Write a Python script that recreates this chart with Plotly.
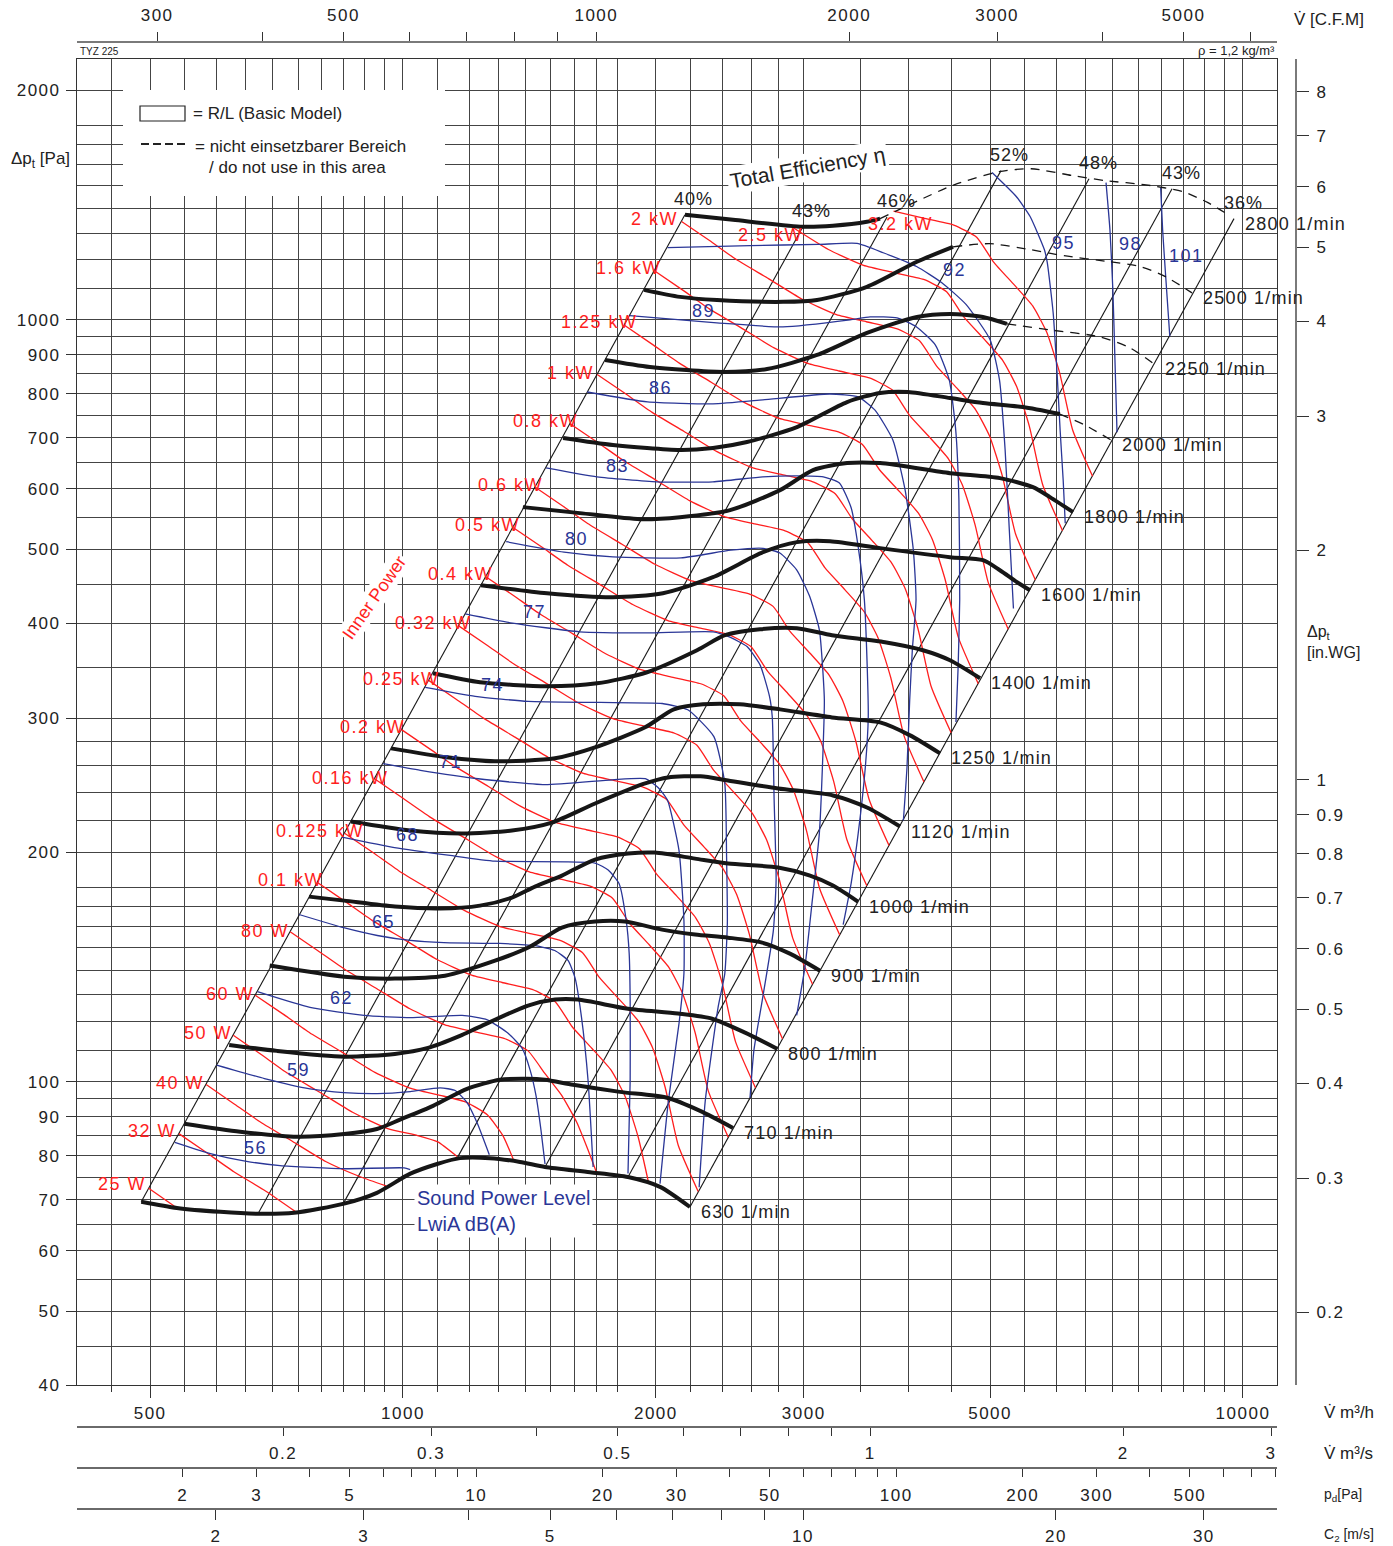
import numpy as np
import plotly.graph_objects as go

# ---------------- data (V in m3/h, pressure in Pa) ----------------
# fan speed curves
n630_V = [488, 538, 606, 674, 742, 851, 931, 1019, 1098, 1169, 1269, 1378, 1476, 1670, 1853, 2023, 2196]
n630_p = [69.6, 68.3, 67.5, 67.1, 67.3, 69.2, 71.5, 75.7, 78.0, 79.4, 79.4, 78.5, 77.3, 76.1, 75.0, 72.8, 68.5]
n710_V = [549, 640, 748, 851, 931, 992, 1086, 1192, 1304, 1405, 1476, 1594, 1812, 2062, 2258, 2471]
n710_p = [88.1, 86.0, 84.7, 85.4, 86.7, 89.2, 93.0, 97.9, 100.6, 100.9, 100.6, 99.1, 97.0, 95.3, 91.6, 87.0]
n800_V = [621, 708, 851, 978, 1071, 1169, 1228, 1409, 1517, 1615, 1853, 2125, 2333, 2554, 2788]
n800_p = [111.8, 109.8, 107.9, 108.8, 110.8, 114.9, 117.8, 125.9, 128.2, 128.2, 124.7, 122.9, 121.0, 116.0, 110.5]
n900_V = [694, 851, 978, 1122, 1287, 1416, 1546, 1693, 1838, 2034, 2227, 2437, 2676, 2888, 3136]
n900_p = [142.1, 137.4, 136.6, 137.8, 144.2, 150.4, 159.4, 162.3, 162.3, 158.4, 156.1, 154.6, 152.3, 147.3, 139.9]
n1000_V = [773, 851, 978, 1107, 1235, 1348, 1436, 1546, 1693, 1853, 1995, 2227, 2437, 2796, 3052, 3250, 3480]
n1000_p = [175.0, 172.9, 169.8, 168.8, 170.3, 174.5, 180.4, 186.5, 195.7, 199.3, 199.9, 196.3, 193.4, 191.1, 186.5, 181.0, 172.4]
n1120_V = [867, 1019, 1176, 1348, 1504, 1693, 1942, 2068, 2261, 2437, 2796, 3250, 3567, 3906]
n1120_p = [219.6, 213.7, 211.8, 213.7, 218.9, 231.9, 246.4, 250.9, 251.7, 248.6, 242.7, 237.6, 229.1, 216.3]
n1250_V = [968, 1128, 1287, 1517, 1693, 1942, 2101, 2276, 2518, 2811, 3241, 3698, 4015, 4359]
n1250_p = [273.9, 266.6, 263.4, 265.8, 274.7, 291.9, 308.2, 312.9, 312.9, 308.2, 300.8, 296.3, 284.9, 269.8]
n1400_V = [1086, 1235, 1484, 1702, 1952, 2239, 2417, 2661, 2944, 3241, 3748, 4159, 4479, 4864]
n1400_p = [343.7, 334.5, 330.5, 333.4, 344.8, 368.5, 385.6, 392.6, 393.8, 385.6, 377.5, 368.5, 357.5, 338.6]
n1600_V = [1238, 1484, 1778, 2039, 2339, 2683, 2944, 3224, 3698, 4479, 4903, 5136, 5383, 5578]
n1600_p = [448.6, 437.8, 432.5, 437.8, 459.5, 495.6, 510.9, 512.4, 501.7, 488.2, 483.7, 469.3, 452.6, 441.7]
n1800_V = [1389, 1624, 1915, 2137, 2451, 2811, 3077, 3378, 3698, 4479, 5136, 5623, 5891, 6277]
n1800_p = [567.9, 557.7, 547.6, 550.9, 562.7, 597.8, 635.1, 648.7, 648.7, 629.3, 619.9, 603.3, 585.3, 559.4]
n2000_V = [1551, 1778, 2137, 2339, 2568, 2944, 3378, 3698, 3993, 4479, 4903, 5472, 6053]
n2000_p = [699.7, 685.0, 674.8, 678.9, 691.3, 723.4, 780.2, 802.0, 804.4, 789.7, 777.9, 768.5, 752.4]
n2000d_V = [6053, 6483, 6964]
n2000d_p = [752.4, 727.8, 695.5]
n2250_V = [1740, 1968, 2404, 2713, 3111, 3567, 4091, 4479, 4903, 5236]
n2250_p = [886.0, 867.4, 854.4, 862.1, 899.4, 961.4, 1009, 1018, 1009, 987.9]
n2250d_V = [5236, 5891, 6757, 7337, 7834]
n2250d_p = [987.9, 970.2, 950.0, 919.0, 875.4]
n2500_V = [1936, 2137, 2365, 2835, 3111, 3567, 4091, 4516]
n2500_p = [1095, 1072, 1062, 1056, 1062, 1105, 1192, 1247]
n2500d_V = [4516, 4997, 5594, 6121, 6945, 7562, 8095, 8696]
n2500d_p = [1247, 1259, 1236, 1214, 1192, 1174, 1139, 1085]
n2800_V = [2166, 2471, 2993, 3250, 3567, 3698]
n2800_p = [1374, 1353, 1325, 1329, 1345, 1358]
n2800d_V = [3698, 4057, 4529, 5123, 5593, 6277, 6869, 7665, 8484, 9085, 9650]
n2800d_p = [1358, 1425, 1504, 1565, 1579, 1546, 1523, 1504, 1473, 1425, 1370]

speed_labels = ["630 1/min", "710 1/min", "800 1/min", "900 1/min", "1000 1/min", "1120 1/min",
                "1250 1/min", "1400 1/min", "1600 1/min", "1800 1/min", "2000 1/min", "2250 1/min",
                "2500 1/min", "2800 1/min"]

# total efficiency lines (from 630 1/min curve up to 2800 1/min curve)
eff_labels = ["40%", "43%", "46%", "52%", "48%", "43%", "36%"]
eff_V_low = [488, 672, 849, 1160, 1476, 1853, 2196]
eff_p_low = [69.6, 67.1, 69.2, 79.4, 77.3, 75.0, 68.5]
eff_V_high = [2166, 2993, 3769, 5151, 6557, 8233, 9757]
eff_p_high = [1374, 1325, 1365, 1570, 1532, 1486, 1358]

# inner power lines
r25_V = [498, 534]
r25_p = [72.5, 68.7]
r32_V = [541, 584, 629, 686, 747]
r32_p = [85.5, 80.7, 76.2, 71.9, 67.4]
r40_V = [583, 629, 677, 739, 809, 891, 955]
r40_p = [99.2, 93.6, 88.5, 83.5, 78.6, 75.0, 73.0]
r50_V = [628, 678, 729, 796, 871, 959, 1041, 1100, 1160]
r50_p = [115.1, 108.6, 102.6, 96.9, 91.2, 86.8, 85.0, 83.4, 79.8]
r60_V = [667, 720, 775, 846, 926, 1019, 1107, 1190, 1260, 1315, 1355]
r60_p = [129.9, 122.7, 115.9, 109.4, 102.9, 98.1, 96.0, 94.0, 90.5, 85.0, 78.8]
r80_V = [734, 792, 853, 931, 1019, 1122, 1218, 1323, 1409, 1476, 1545, 1610, 1660, 1700]
r80_p = [157.4, 148.6, 140.4, 132.5, 124.7, 118.8, 116.3, 113.9, 109.8, 102.5, 96.0, 88.5, 81.5, 76.0]
r100_V = [791, 854, 919, 1003, 1098, 1209, 1312, 1425, 1518, 1590, 1679, 1770, 1839, 1905, 1959]
r100_p = [182.6, 172.4, 162.9, 153.8, 144.7, 137.9, 135.0, 132.2, 127.4, 118.1, 110.6, 103.5, 95.6, 84.7, 74.0]
r125_V = [852, 920, 990, 1080, 1183, 1302, 1413, 1535, 1635, 1713, 1809, 1907, 1981, 2052, 2127, 2246]
r125_p = [211.9, 200.1, 189.0, 178.4, 167.9, 160.0, 156.6, 153.4, 147.8, 137.1, 128.3, 120.1, 111.0, 98.3, 82.5, 71.8]
r160_V = [925, 998, 1075, 1173, 1284, 1414, 1535, 1667, 1775, 1860, 1964, 2070, 2151, 2228, 2309, 2439]
r160_p = [249.9, 235.9, 222.9, 210.3, 198.0, 188.6, 184.6, 180.8, 174.3, 161.6, 151.3, 141.6, 130.8, 115.9, 97.3, 84.6]
r200_V = [996, 1075, 1158, 1264, 1383, 1523, 1653, 1796, 1912, 2003, 2116, 2230, 2317, 2400, 2488, 2628]
r200_p = [289.9, 273.7, 258.6, 244.1, 229.7, 218.8, 214.2, 209.8, 202.3, 187.5, 175.5, 164.3, 151.8, 134.5, 112.9, 98.2]
r250_V = [1073, 1158, 1247, 1361, 1490, 1640, 1781, 1934, 2060, 2158, 2279, 2402, 2496, 2585, 2680, 2830]
r250_p = [336.4, 317.6, 300.1, 283.2, 266.5, 253.9, 248.6, 243.5, 234.7, 217.6, 203.7, 190.7, 176.1, 156.0, 131.0, 113.9]
r320_V = [1165, 1258, 1354, 1478, 1618, 1781, 1933, 2100, 2237, 2343, 2475, 2608, 2710, 2807, 2910, 3073]
r320_p = [396.6, 374.4, 353.8, 333.9, 314.2, 299.4, 293.1, 287.0, 276.7, 256.5, 240.1, 224.8, 207.6, 183.9, 154.5, 134.3]
r400_V = [1255, 1355, 1459, 1592, 1743, 1919, 2083, 2262, 2409, 2524, 2666, 2810, 2919, 3023, 3134, 3311]
r400_p = [460.2, 434.5, 410.5, 387.4, 364.6, 347.4, 340.1, 333.0, 321.1, 297.7, 278.7, 260.8, 240.9, 213.5, 179.2, 155.8]
r500_V = [1352, 1460, 1571, 1715, 1877, 2067, 2244, 2437, 2595, 2719, 2872, 3026, 3144, 3257, 3376, 3566]
r500_p = [534.1, 504.2, 476.4, 449.6, 423.1, 403.1, 394.6, 386.5, 372.6, 345.4, 323.3, 302.7, 279.6, 247.7, 208.0, 180.8]
r600_V = [1437, 1551, 1670, 1823, 1995, 2196, 2384, 2590, 2758, 2889, 3052, 3216, 3341, 3461, 3588, 3790]
r600_p = [603.1, 569.4, 538.0, 507.7, 477.8, 455.2, 445.6, 436.4, 420.7, 390.0, 365.1, 341.8, 315.7, 279.7, 234.9, 204.2]
r800_V = [1581, 1707, 1838, 2006, 2196, 2417, 2624, 2850, 3036, 3180, 3359, 3540, 3678, 3809, 3949, 4171]
r800_p = [730.6, 689.8, 651.7, 615.0, 578.8, 551.4, 539.8, 528.7, 509.6, 472.5, 442.3, 414.0, 382.5, 338.8, 284.5, 247.4]
r1000_V = [1703, 1839, 1980, 2161, 2365, 2604, 2827, 3070, 3270, 3426, 3618, 3813, 3962, 4103, 4254, 4493]
r1000_p = [847.8, 800.4, 756.2, 713.7, 671.6, 639.9, 626.4, 613.5, 591.4, 548.3, 513.3, 480.4, 443.8, 393.2, 330.2, 287.1]
r1250_V = [1835, 1981, 2133, 2328, 2548, 2805, 3045, 3308, 3523, 3690, 3898, 4108, 4268, 4420, 4583, 4840]
r1250_p = [983.8, 928.8, 877.5, 828.1, 779.4, 742.5, 726.9, 711.9, 686.3, 636.3, 595.6, 557.5, 515.0, 456.3, 383.1, 333.1]
r1600_V = [1992, 2151, 2316, 2527, 2766, 3046, 3306, 3591, 3825, 4007, 4232, 4460, 4634, 4799, 4976, 5255]
r1600_p = [1160, 1095, 1034, 976.3, 918.8, 875.3, 856.9, 839.2, 809.0, 750.1, 702.2, 657.2, 607.1, 537.9, 451.7, 392.7]
r2000_V = [2146, 2317, 2494, 2723, 2980, 3281, 3561, 3868, 4120, 4316, 4559, 4804, 4991, 5170, 5360, 5661]
r2000_p = [1346, 1271, 1200, 1133, 1066, 1016, 994.4, 973.8, 938.8, 870.4, 814.8, 762.7, 704.5, 624.1, 524.1, 455.7]
r2500_V = [2884, 3210, 3534, 3836, 4167, 4438, 4649, 4910, 5175, 5377, 5569, 5774, 6098]
r2500_p = [1331, 1237, 1179, 1154, 1130, 1089, 1010, 945.5, 885.1, 817.5, 724.3, 608.2, 528.8]
r3200_V = [3837, 4165, 4525, 4819, 5048, 5332, 5619, 5838, 6047, 6269, 6621]
r3200_p = [1389, 1360, 1332, 1284, 1191, 1114, 1043, 963.8, 853.8, 717.0, 623.4]

power_labels = ["25 W", "32 W", "40 W", "50 W", "60 W", "80 W", "0.1 kW", "0.125 kW", "0.16 kW",
                "0.2 kW", "0.25 kW", "0.32 kW", "0.4 kW", "0.5 kW", "0.6 kW", "0.8 kW", "1 kW",
                "1.25 kW", "1.6 kW", "2 kW", "2.5 kW", "3.2 kW"]
power_label_V = [463.5, 503, 543.4, 585.3, 621.7, 685.6, 734, 796.6, 865, 918.8, 997, 1086, 1170,
                 1260, 1342, 1476, 1581, 1716, 1853, 1995, 2736, 3906]
power_label_p = [73.5, 86.1, 99.7, 115.8, 130.5, 157.9, 183.9, 213.3, 250.6, 292.3, 338.2, 400, 464.2,
                 538.2, 607.2, 736.9, 851.8, 994, 1171, 1358, 1293.6, 1338]

# sound power level lines, LwiA dB(A)
b56_V = [535, 590, 649, 714, 850, 1003, 1020]
b56_p = [83.3, 80.5, 78.7, 77.6, 76.9, 77.1, 76.7]
b59_V = [600, 684, 775, 850, 932, 1020, 1107, 1154, 1192, 1226, 1267]
b59_p = [105.2, 101.0, 97.9, 96.8, 96.5, 97.1, 98.2, 97.4, 93.9, 88.2, 80.2]
b62_V = [671, 775, 899, 1020, 1176, 1260, 1334, 1386, 1417, 1440, 1460, 1476]
b62_p = [131.3, 125.2, 122.2, 121.4, 122.2, 120.6, 115.8, 110.7, 103.6, 95.9, 86.3, 78.0]
b65_V = [752, 850, 932, 1020, 1119, 1305, 1436, 1516, 1572, 1602, 1629, 1661, 1684]
b65_p = [165.8, 159.3, 155.6, 153.3, 152.3, 151.9, 150.9, 148.7, 144.3, 137.1, 122.9, 100.3, 77.3]
b68_V = [846, 977, 1138, 1287, 1693, 1755, 1808, 1844, 1859, 1864, 1864, 1853]
b68_p = [209.5, 203.0, 198.2, 194.8, 193.7, 189.6, 182.1, 162.8, 147.4, 127.8, 100.3, 75.8]
b71_V = [947, 1049, 1229, 1476, 1774, 1943, 2012, 2065, 2131, 2160, 2160, 2131, 2070, 2023]
b71_p = [261.5, 256.3, 249.9, 245.5, 249.1, 249.9, 243.4, 234.2, 201.2, 162.8, 138.7, 119.2, 94.4, 73.5]
b74_V = [1063, 1219, 1409, 1717, 2035, 2183, 2345, 2416, 2428, 2433, 2416, 2372, 2290, 2252]
b74_p = [329.4, 320.6, 315.7, 314.7, 313.7, 307.8, 283.8, 246.3, 197.1, 161.3, 138.7, 125.2, 94.4, 72.7]
b77_V = [1186, 1350, 1623, 1955, 2340, 2442, 2568, 2662, 2731, 2752, 2766, 2781, 2760, 2677, 2617, 2589]
b77_p = [411.3, 400, 389.6, 388.4, 389.6, 383.9, 372.6, 352.3, 320.6, 301, 234.2, 183.9, 157.9, 127.8, 110.1, 95.3]
b80_V = [1327, 1555, 1778, 2143, 2457, 2684, 2810, 2942, 3047, 3131, 3174, 3157, 3131, 3071, 3009, 2942]
b80_p = [511.5, 495.7, 488.6, 487.1, 498.6, 501.4, 494.3, 469.9, 434.4, 391.9, 317.6, 258.4, 212, 173, 141.2, 122.2]
b83_V = [1480, 1702, 2006, 2339, 2681, 2942, 3165, 3308, 3416, 3483, 3542, 3570, 3580, 3551, 3483, 3416, 3342]
b83_p = [639.4, 622.3, 613, 613, 622.3, 624.2, 622.3, 611, 566.9, 503.2, 429.3, 350, 301, 258.4, 212, 182.2, 160.8]
b86_V = [1657, 1955, 2339, 2681, 3223, 3483, 3647, 3830, 3961, 4051, 4081, 4040, 4011, 3981, 3942]
b86_p = [804.2, 780.5, 775.8, 785.2, 799.3, 792.3, 761.3, 695.7, 597.9, 498.6, 429.3, 369.2, 317.6, 258.4, 220.3]
b89_V = [1862, 2364, 2834, 3406, 3598, 3874, 4087, 4302, 4470, 4550, 4590, 4600, 4580, 4553]
b89_p = [1012.7, 990.9, 979, 1000, 1009, 1006, 979, 927.5, 834, 717, 580.6, 429.3, 350, 296.6]
b92_V = [2065, 2589, 3120, 3472, 3730, 4087, 4380, 4680, 5000, 5130, 5210, 5270, 5330]
b92_p = [1244, 1252, 1256, 1260, 1225, 1175, 1119, 1048, 942, 834, 675, 530, 418]
b95_V = [5026, 5371, 5579, 5801, 5848, 5943, 6007, 6058, 6109, 6143]
b95_p = [1561, 1452, 1367, 1237, 1189, 1022, 852, 716, 615, 541]
b98_V = [6870, 6944, 7000, 7040, 7080]
b98_p = [1514, 1313, 1095, 886, 712]
b101_V = [7980, 8023, 8091, 8182]
b101_p = [1491, 1313, 1139, 952]

sound_labels = ["56", "59", "62", "65", "68", "71", "74", "77", "80", "83", "86", "89", "92", "95", "98", "101"]
sound_label_V = [667, 750, 844, 949, 1011.5, 1138, 1277, 1436, 1611, 1802, 2023, 2276, 4540, 6109, 7340, 8560]
sound_label_p = [81.9, 103.6, 129, 162.3, 210.7, 262.6, 331.4, 413.9, 515.8, 643.2, 814.3, 1028.6, 1164, 1263, 1256, 1213]

# axis grids and tick labels
x_grid = [450, 500, 550, 600, 650, 700, 750, 800, 850, 900, 950, 1000, 1100, 1200, 1300, 1400, 1500,
          1600, 1700, 1800, 2000, 2200, 2400, 2600, 2800, 3000, 3500, 4000, 4500, 5000, 5500,
          6000, 6500, 7000, 7500, 8000, 8500, 9000, 9500, 10000]
x_labels = [500, 1000, 2000, 3000, 5000, 10000]
y_grid = [45, 50, 55, 60, 65, 70, 75, 80, 85, 90, 95, 100, 110, 120, 130, 140, 150, 160, 170, 180,
          200, 220, 240, 260, 280, 300, 350, 400, 450, 500, 550, 600, 650, 700, 750, 800, 850, 900, 950,
          1000, 1100, 1200, 1300, 1400, 1500, 1600, 1700, 1800, 2000]
y_labels = [40, 50, 60, 70, 80, 90, 100, 200, 300, 400, 500, 600, 700, 800, 900, 1000, 2000]
cfm_ticks = [300, 400, 500, 600, 700, 800, 900, 1000, 2000, 3000, 4000, 5000, 6000]
cfm_labels = [300, 500, 1000, 2000, 3000, 5000]
ms_ticks = [0.2, 0.3, 0.4, 0.5, 0.6, 0.7, 0.8, 0.9, 1, 2, 3]
ms_labels = [0.2, 0.3, 0.5, 1, 2, 3]
pd_ticks = [2, 3, 4, 5, 6, 7, 8, 9, 10, 20, 30, 40, 50, 60, 70, 80, 90, 100, 200, 300, 400, 500, 600, 700, 800]
pd_labels = [2, 3, 5, 10, 20, 30, 50, 100, 200, 300, 500]
c2_ticks = [2, 3, 4, 5, 6, 7, 8, 9, 10, 20, 30]
c2_labels = [2, 3, 5, 10, 20, 30]
inwg_ticks = [0.2, 0.3, 0.4, 0.5, 0.6, 0.7, 0.8, 0.9, 1, 2, 3, 4, 5, 6, 7, 8]

# scale relations
V_MIN, V_MAX = 409.2, 10977      # m3/h at plot edges
P_MIN, P_MAX = 40, 2200          # Pa at plot edges
CFM_FACTOR = 1.699               # m3/h per CFM
PA_PER_INWG = 249.09
V_AT_PD100 = 3866                # m3/h where pd = 100 Pa
V_AT_C10 = 2994                  # m3/h where c2 = 10 m/s

# ---------------- layout helpers ----------------
W, H = 1393, 1546
ML, MR, MT, MB = 77, 97, 42, 37
PW, PH = W - ML - MR, H - MT - MB


def fx(px):
    return (px - ML) / PW


def fy(py):
    return (H - MB - py) / PH


FONT = "Liberation Sans, Arial, Helvetica, sans-serif"
RED = "#ff1e1e"
BLUE = "#2a3697"
BLACK = "#161616"
GRID = "#444444"


def sp(text, ls=1.5):
    if text == "":
        return ""
    return '<span style="letter-spacing:%.1fpx">%s</span>' % (ls, text)


fig = go.Figure()


def add_line(V, p, color, width, dash=None, shape="spline", smoothing=0.6):
    ln = dict(color=color, width=width, shape=shape)
    if shape == "spline":
        ln["smoothing"] = smoothing
    if dash:
        ln["dash"] = dash
    fig.add_trace(go.Scatter(x=V, y=p, mode="lines", line=ln, hoverinfo="skip", showlegend=False))


# efficiency lines
for i in range(len(eff_labels)):
    add_line([eff_V_low[i], eff_V_high[i]], [eff_p_low[i], eff_p_high[i]], BLACK, 1.1, shape="linear")

# power lines
red_lines = [(r25_V, r25_p), (r32_V, r32_p), (r40_V, r40_p), (r50_V, r50_p), (r60_V, r60_p),
             (r80_V, r80_p), (r100_V, r100_p), (r125_V, r125_p), (r160_V, r160_p), (r200_V, r200_p),
             (r250_V, r250_p), (r320_V, r320_p), (r400_V, r400_p), (r500_V, r500_p), (r600_V, r600_p),
             (r800_V, r800_p), (r1000_V, r1000_p), (r1250_V, r1250_p), (r1600_V, r1600_p),
             (r2000_V, r2000_p), (r2500_V, r2500_p), (r3200_V, r3200_p)]
for V, p in red_lines:
    add_line(V, p, RED, 1.3, smoothing=0.5)

# sound lines
blue_lines = [(b56_V, b56_p), (b59_V, b59_p), (b62_V, b62_p), (b65_V, b65_p), (b68_V, b68_p),
              (b71_V, b71_p), (b74_V, b74_p), (b77_V, b77_p), (b80_V, b80_p), (b83_V, b83_p),
              (b86_V, b86_p), (b89_V, b89_p), (b92_V, b92_p), (b95_V, b95_p), (b98_V, b98_p),
              (b101_V, b101_p)]
for V, p in blue_lines:
    add_line(V, p, BLUE, 1.3, smoothing=0.5)

# speed curves
speed_curves = [(n630_V, n630_p), (n710_V, n710_p), (n800_V, n800_p), (n900_V, n900_p),
                (n1000_V, n1000_p), (n1120_V, n1120_p), (n1250_V, n1250_p), (n1400_V, n1400_p),
                (n1600_V, n1600_p), (n1800_V, n1800_p), (n2000_V, n2000_p), (n2250_V, n2250_p),
                (n2500_V, n2500_p), (n2800_V, n2800_p)]
for V, p in speed_curves:
    add_line(V, p, BLACK, 4, smoothing=0.7)
speed_dashed = [(n2000d_V, n2000d_p), (n2250d_V, n2250d_p), (n2500d_V, n2500d_p), (n2800d_V, n2800d_p)]
for V, p in speed_dashed:
    add_line(V, p, BLACK, 1.3, dash="9px,7px", smoothing=0.7)
speed_ends = [(n630_V[-1], n630_p[-1]), (n710_V[-1], n710_p[-1]), (n800_V[-1], n800_p[-1]),
              (n900_V[-1], n900_p[-1]), (n1000_V[-1], n1000_p[-1]), (n1120_V[-1], n1120_p[-1]),
              (n1250_V[-1], n1250_p[-1]), (n1400_V[-1], n1400_p[-1]), (n1600_V[-1], n1600_p[-1]),
              (n1800_V[-1], n1800_p[-1]), (n2000d_V[-1], n2000d_p[-1]), (n2250d_V[-1], n2250d_p[-1]),
              (n2500d_V[-1], n2500d_p[-1]), (eff_V_high[-1], eff_p_high[-1])]

# invisible anchors so the secondary axes are drawn
lvmid = np.sqrt(V_MIN * V_MAX)
pmid = np.sqrt(P_MIN * P_MAX)
for ax in ["x2", "x3", "x4", "x5"]:
    fig.add_trace(go.Scatter(x=[1], y=[pmid], xaxis=ax, yaxis="y", mode="markers",
                             marker=dict(opacity=0), hoverinfo="skip", showlegend=False))
fig.add_trace(go.Scatter(x=[lvmid], y=[1], xaxis="x", yaxis="y2", mode="markers",
                         marker=dict(opacity=0), hoverinfo="skip", showlegend=False))

# ---------------- axes ----------------
lv0, lv1 = np.log10(V_MIN), np.log10(V_MAX)
lp0, lp1 = np.log10(P_MIN), np.log10(P_MAX)
x_dom = [0, fx(1277)]
y_dom = [fy(1385), fy(59)]
tickfont = dict(family=FONT, size=17, color="#222")


def fmt(v):
    return ("%g" % v)


x_minor = [v for v in x_grid if v not in x_labels]
y_minor = [v for v in y_grid if v not in y_labels]

fig.update_layout(
    width=W, height=H, autosize=False,
    margin=dict(l=ML, r=MR, t=MT, b=MB, autoexpand=False),
    paper_bgcolor="white", plot_bgcolor="white",
    font=dict(family=FONT, color="#222"),
    showlegend=False,
    xaxis=dict(type="log", range=[lv0, lv1], domain=x_dom, anchor="y", automargin=False,
               showline=True, linecolor="#333", linewidth=1.2, mirror=True,
               tickmode="array", tickvals=x_labels, ticktext=[sp(fmt(v)) for v in x_labels],
               ticks="outside", ticklen=12, tickcolor="#333", tickwidth=1,
               showgrid=True, gridcolor=GRID, gridwidth=1, zeroline=False,
               minor=dict(tickmode="array", tickvals=x_minor, ticks="outside", ticklen=6,
                          tickcolor="#333", showgrid=True, gridcolor=GRID, gridwidth=1),
               tickfont=tickfont, ticklabelstandoff=0),
    yaxis=dict(type="log", range=[lp0, lp1], domain=y_dom, anchor="x", automargin=False,
               showline=True, linecolor="#333", linewidth=1.2, mirror=True,
               tickmode="array", tickvals=y_labels, ticktext=[sp(fmt(v)) for v in y_labels],
               ticks="outside", ticklen=10, tickcolor="#333", tickwidth=1,
               showgrid=True, gridcolor=GRID, gridwidth=1, zeroline=False,
               minor=dict(tickmode="array", tickvals=y_minor, ticks="",
                          showgrid=True, gridcolor=GRID, gridwidth=1),
               tickfont=tickfont, ticklabelstandoff=2),
    xaxis2=dict(type="log", range=[lv0 - np.log10(CFM_FACTOR), lv1 - np.log10(CFM_FACTOR)],
                domain=x_dom, overlaying="x", anchor="free", position=1, side="top", automargin=False,
                showline=True, linecolor="#7a7a7a", linewidth=2,
                tickmode="array", tickvals=cfm_ticks,
                ticktext=[sp(fmt(v)) if v in cfm_labels else "" for v in cfm_ticks],
                ticks="outside", ticklen=9, tickcolor="#333", showgrid=False, zeroline=False,
                tickfont=tickfont, ticklabelstandoff=4),
    xaxis3=dict(type="log", range=[lv0 - np.log10(3600), lv1 - np.log10(3600)],
                domain=x_dom, overlaying="x", anchor="free", position=fy(1427), side="bottom",
                automargin=False, showline=True, linecolor="#6a6a6a", linewidth=1.5,
                tickmode="array", tickvals=ms_ticks,
                ticktext=[sp(fmt(v)) if v in ms_labels else "" for v in ms_ticks],
                ticks="outside", ticklen=8, tickcolor="#333", showgrid=False, zeroline=False,
                tickfont=tickfont, ticklabelstandoff=3),
    xaxis4=dict(type="log",
                range=[2 + 2 * (lv0 - np.log10(V_AT_PD100)), 2 + 2 * (lv1 - np.log10(V_AT_PD100))],
                domain=x_dom, overlaying="x", anchor="free", position=fy(1468), side="bottom",
                automargin=False, showline=True, linecolor="#6a6a6a", linewidth=1.5,
                tickmode="array", tickvals=pd_ticks,
                ticktext=[sp(fmt(v)) if v in pd_labels else "" for v in pd_ticks],
                ticks="outside", ticklen=8, tickcolor="#333", showgrid=False, zeroline=False,
                tickfont=tickfont, ticklabelstandoff=4),
    xaxis5=dict(type="log",
                range=[1 + lv0 - np.log10(V_AT_C10), 1 + lv1 - np.log10(V_AT_C10)],
                domain=x_dom, overlaying="x", anchor="free", position=0, side="bottom",
                automargin=False, showline=True, linecolor="#6a6a6a", linewidth=1.5,
                tickmode="array", tickvals=c2_ticks,
                ticktext=[sp(fmt(v)) if v in c2_labels else "" for v in c2_ticks],
                ticks="outside", ticklen=10, tickcolor="#333", showgrid=False, zeroline=False,
                tickfont=tickfont, ticklabelstandoff=2),
    yaxis2=dict(type="log", range=[lp0 - np.log10(PA_PER_INWG), lp1 - np.log10(PA_PER_INWG)],
                domain=y_dom, overlaying="y", anchor="free", position=1, side="right",
                automargin=False, showline=True, linecolor="#7a7a7a", linewidth=2,
                tickmode="array", tickvals=inwg_ticks, ticktext=[sp(fmt(v)) for v in inwg_ticks],
                ticks="outside", ticklen=12, tickcolor="#333", showgrid=False, zeroline=False,
                tickfont=tickfont, ticklabelstandoff=4),
)

# ---------------- annotations ----------------
ann = []


def data_text(V, p, text, color, size, xanchor="center", xshift=0, yshift=0, ls=1.5):
    ann.append(dict(x=np.log10(V), y=np.log10(p), xref="x", yref="y", text=sp(text, ls), showarrow=False,
                    xanchor=xanchor, yanchor="middle", xshift=xshift, yshift=yshift,
                    font=dict(family=FONT, size=size, color=color)))


def paper_text(px, py, text, size, color="#222", xanchor="left", yanchor="middle", **kw):
    d = dict(x=fx(px), y=fy(py), xref="paper", yref="paper", text=text, showarrow=False,
             xanchor=xanchor, yanchor=yanchor, font=dict(family=FONT, size=size, color=color))
    d.update(kw)
    ann.append(d)


for (V, p), lab in zip(speed_ends, speed_labels):
    data_text(V, p, lab, "#222", 18, xanchor="left", xshift=9, yshift=-5, ls=1.2)
for i, lab in enumerate(eff_labels):
    data_text(eff_V_high[i], eff_p_high[i], lab, "#222", 18, xshift=9, yshift=16, ls=1.0)
for V, p, lab in zip(power_label_V, power_label_p, power_labels):
    data_text(V, p, lab, RED, 18, ls=1.5)
for V, p, lab in zip(sound_label_V, sound_label_p, sound_labels):
    data_text(V, p, lab, BLUE, 18, ls=1.5)

paper_text(807, 168, "Total Efficiency \u03b7", 21, xanchor="center", textangle=-10,
           bgcolor="white", borderpad=2)
paper_text(374, 598, "Inner Power", 18, color=RED, xanchor="center", textangle=-55,
           bgcolor="white", borderpad=1)
paper_text(414, 1184, "Sound Power Level<br>LwiA dB(A)", 20, color=BLUE, yanchor="top",
           align="left", bgcolor="white", borderpad=2)

# legend box texts
paper_text(191, 113, "= R/L (Basic Model)", 17)
paper_text(193, 146, "= nicht einsetzbarer Bereich", 17)
paper_text(207, 167, "/ do not use in this area", 17)

# axis titles and notes
paper_text(40, 160, "\u0394p<sub>t</sub> [Pa]", 17, xanchor="center")
paper_text(1366, 20, "V\u0307 [C.F.M]", 17, xanchor="right")
paper_text(78, 52, "TYZ 225", 10)
paper_text(1277, 50, "\u03c1 = 1,2 kg/m\u00b3", 13, xanchor="right")
paper_text(1305, 642, "\u0394p<sub>t</sub><br>[in.WG]", 16, align="left")
paper_text(1322, 1412, "V\u0307 m\u00b3/h", 17)
paper_text(1322, 1453, "V\u0307 m\u00b3/s", 17)
paper_text(1322, 1495, "p<sub>d</sub>[Pa]", 14)
paper_text(1322, 1535, "C<sub>2</sub> [m/s]", 14)

fig.update_layout(annotations=ann)

# legend box shapes (white box covering the grid)
shapes = [
    dict(type="rect", xref="paper", yref="paper", x0=fx(123), x1=fx(445), y0=fy(196), y1=fy(90),
         fillcolor="white", line=dict(width=0), layer="above"),
    dict(type="rect", xref="paper", yref="paper", x0=fx(140), x1=fx(185), y0=fy(121), y1=fy(106),
         fillcolor="white", line=dict(color="#222", width=1.2), layer="above"),
    dict(type="line", xref="paper", yref="paper", x0=fx(141), x1=fx(188), y0=fy(144), y1=fy(144),
         line=dict(color="#222", width=2, dash="8px,4px"), layer="above"),
]
fig.update_layout(shapes=shapes)

fig.write_html("out.html")
